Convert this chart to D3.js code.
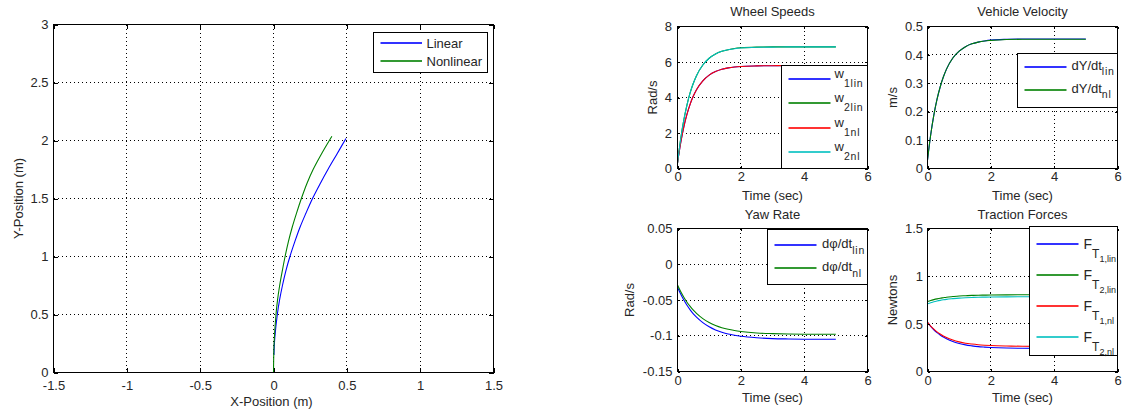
<!DOCTYPE html>
<html>
<head>
<meta charset="utf-8">
<script src="https://cdn.jsdelivr.net/npm/d3@7"></script>
<style>
  html, body { margin: 0; padding: 0; background: #fff; }
  svg { display: block; }
</style>
</head>
<body>
<svg id="fig" width="1125" height="414"></svg>
<script>
// ---------- data ----------
// planar trajectory (m)
const xLin = [0.003, 0.005, 0.009, 0.026, 0.042, 0.061, 0.083, 0.112, 0.146, 0.18, 0.22, 0.266, 0.319, 0.371, 0.431, 0.494];
const yLin = [0.15, 0.22, 0.3, 0.5, 0.63, 0.75, 0.87, 1.0, 1.13, 1.25, 1.37, 1.5, 1.63, 1.75, 1.88, 2.017];
const xNl  = [0, 0.001, 0.004, 0.017, 0.028, 0.042, 0.059, 0.079, 0.102, 0.127, 0.156, 0.19, 0.228, 0.27, 0.325, 0.398];
const yNl  = [0, 0.1, 0.25, 0.5, 0.63, 0.75, 0.87, 1.0, 1.13, 1.25, 1.37, 1.5, 1.63, 1.75, 1.88, 2.037];

// simulation time (sec)
const time = [0, 0.1, 0.2, 0.3, 0.4, 0.5, 0.6, 0.8, 1.0, 1.2, 1.4, 1.6, 1.8, 2.0, 2.5, 3.0, 3.5, 4.0, 4.5, 5.0];

// wheel speeds (rad/s)
const w1Lin = [0.3, 1.44, 2.35, 3.06, 3.63, 4.08, 4.44, 4.94, 5.26, 5.46, 5.59, 5.67, 5.72, 5.75, 5.78, 5.79, 5.8, 5.8, 5.8, 5.8];
const w2Lin = [0.3, 1.66, 2.74, 3.59, 4.27, 4.80, 5.23, 5.83, 6.21, 6.45, 6.60, 6.69, 6.76, 6.80, 6.84, 6.85, 6.85, 6.85, 6.85, 6.85];
const w1Nl  = [0.3, 1.44, 2.35, 3.06, 3.63, 4.08, 4.44, 4.94, 5.26, 5.46, 5.59, 5.67, 5.72, 5.75, 5.78, 5.79, 5.8, 5.8, 5.8, 5.8];
const w2Nl  = [0.3, 1.66, 2.74, 3.59, 4.27, 4.80, 5.23, 5.83, 6.21, 6.45, 6.60, 6.69, 6.75, 6.79, 6.83, 6.84, 6.85, 6.85, 6.85, 6.85];

// forward velocity (m/s)
const vLin = [0.03, 0.118, 0.188, 0.243, 0.287, 0.322, 0.350, 0.389, 0.413, 0.429, 0.439, 0.445, 0.449, 0.452, 0.455, 0.456, 0.456, 0.456, 0.456, 0.456];
const vNl  = [0.03, 0.118, 0.188, 0.243, 0.287, 0.322, 0.350, 0.389, 0.413, 0.429, 0.439, 0.445, 0.449, 0.451, 0.454, 0.455, 0.455, 0.455, 0.455, 0.455];

// yaw rate (rad/s)
const yawLin = [-0.032, -0.0417, -0.0501, -0.0574, -0.0638, -0.0693, -0.074, -0.0817, -0.0875, -0.0919, -0.0951, -0.0976, -0.0994, -0.1008, -0.1029, -0.104, -0.1045, -0.1048, -0.1049, -0.105];
const yawNl  = [-0.029, -0.0382, -0.0461, -0.0531, -0.059, -0.0642, -0.0687, -0.076, -0.0815, -0.0856, -0.0887, -0.091, -0.0927, -0.094, -0.0961, -0.097, -0.0975, -0.0978, -0.0979, -0.098];

// traction forces (N)
const ft1Lin = [0.516, 0.474, 0.438, 0.408, 0.383, 0.361, 0.343, 0.314, 0.294, 0.279, 0.269, 0.261, 0.256, 0.252, 0.246, 0.244, 0.243, 0.242, 0.242, 0.242];
const ft2Lin = [0.734, 0.745, 0.754, 0.762, 0.769, 0.774, 0.779, 0.786, 0.792, 0.795, 0.798, 0.800, 0.801, 0.802, 0.804, 0.805, 0.805, 0.805, 0.805, 0.805];
const ft1Nl  = [0.516, 0.477, 0.444, 0.416, 0.393, 0.373, 0.356, 0.330, 0.311, 0.297, 0.288, 0.281, 0.276, 0.272, 0.267, 0.265, 0.264, 0.263, 0.263, 0.263];
const ft2Nl  = [0.710, 0.721, 0.731, 0.739, 0.746, 0.752, 0.757, 0.764, 0.770, 0.774, 0.777, 0.779, 0.780, 0.781, 0.783, 0.784, 0.784, 0.784, 0.784, 0.784];

// tick values
const posXTicks = [-1.5, -1, -0.5, 0, 0.5, 1, 1.5];
const posYTicks = [0, 0.5, 1, 1.5, 2, 2.5, 3];
const timeTicks = [0, 2, 4, 6];
const wheelTicks = [0, 2, 4, 6, 8];
const velTicks = [0, 0.1, 0.2, 0.3, 0.4, 0.5];
const yawTicks = [-0.15, -0.1, -0.05, 0, 0.05];
const forceTicks = [0, 0.5, 1, 1.5];

// ---------- style ----------
const FONT = '"Liberation Sans", Arial, Helvetica, sans-serif';
const TXT = "#262626";
const C = { blue: "#0000ff", green: "#008000", red: "#ff0000", cyan: "#00bfbf" };

const svg = d3.select("#fig").attr("font-family", FONT);
let clipId = 0;

function panel(p) {
  const g = svg.append("g").attr("transform", `translate(${p.left + 0.5},${p.top + 0.5})`);
  const x = d3.scaleLinear().domain(p.xDomain).range([0, p.width]);
  const y = d3.scaleLinear().domain(p.yDomain).range([p.height, 0]);
  const fmt = d => String(d);

  // dotted grid
  const grid = g.append("g").attr("stroke", "#000").attr("stroke-width", 1)
    .attr("stroke-dasharray", "1,3").attr("shape-rendering", "crispEdges");
  grid.selectAll(".gx").data(p.xTicks.slice(1, -1)).join("line")
    .attr("x1", d => Math.round(x(d))).attr("x2", d => Math.round(x(d)))
    .attr("y1", 0).attr("y2", p.height);
  grid.selectAll(".gy").data(p.yTicks.slice(1, -1)).join("line")
    .attr("y1", d => Math.round(y(d))).attr("y2", d => Math.round(y(d)))
    .attr("x1", 0).attr("x2", p.width);

  // series
  const cid = "clip" + (clipId++);
  g.append("clipPath").attr("id", cid).append("rect")
    .attr("x", 0).attr("y", 0).attr("width", p.width).attr("height", p.height);
  const lines = g.append("g").attr("clip-path", `url(#${cid})`);
  const gen = d3.line().x(d => x(d[0])).y(d => y(d[1])).curve(p.curve || d3.curveMonotoneX);
  p.series.forEach(s => {
    const pts = s.xs.map((v, i) => [v, s.ys[i]]);
    lines.append("path").attr("d", gen(pts)).attr("fill", "none")
      .attr("stroke", s.color).attr("stroke-width", 1.1);
  });

  // axes: ticks drawn inward on all four sides
  const tl = p.tick;
  const styleAxis = sel => {
    sel.select(".domain").remove();
    sel.attr("font-family", FONT).attr("font-size", 13);
    sel.selectAll(".tick line").attr("stroke", "#000").attr("shape-rendering", "crispEdges");
    sel.selectAll("text").attr("fill", TXT);
  };
  g.append("g").attr("transform", `translate(0,${p.height})`)
    .call(d3.axisBottom(x).tickValues(p.xTicks).tickFormat(fmt).tickSizeInner(-tl).tickSizeOuter(0).tickPadding(p.xPad))
    .call(styleAxis);
  g.append("g")
    .call(d3.axisTop(x).tickValues(p.xTicks).tickFormat(() => "").tickSizeInner(-tl).tickSizeOuter(0))
    .call(styleAxis);
  g.append("g")
    .call(d3.axisLeft(y).tickValues(p.yTicks).tickFormat(fmt).tickSizeInner(-tl).tickSizeOuter(0).tickPadding(p.yPad))
    .call(styleAxis);
  g.append("g").attr("transform", `translate(${p.width},0)`)
    .call(d3.axisRight(y).tickValues(p.yTicks).tickFormat(() => "").tickSizeInner(-tl).tickSizeOuter(0))
    .call(styleAxis);

  // frame
  g.append("rect").attr("x", 0).attr("y", 0).attr("width", p.width).attr("height", p.height)
    .attr("fill", "none").attr("stroke", "#000").attr("shape-rendering", "crispEdges");

  // labels
  if (p.title) {
    g.append("text").attr("x", p.width / 2).attr("y", p.titleY).attr("text-anchor", "middle")
      .attr("font-size", 13).attr("fill", TXT).text(p.title);
  }
  g.append("text").attr("x", p.width / 2 + (p.xLabelShift || 0)).attr("y", p.xLabelY).attr("text-anchor", "middle")
    .attr("font-size", 13).attr("fill", TXT).text(p.xLabel);
  g.append("text").attr("transform", `translate(${p.yLabelX},${p.height / 2}) rotate(-90)`)
    .attr("dy", "0.35em").attr("text-anchor", "middle")
    .attr("font-size", 13).attr("fill", TXT).text(p.yLabel);

  // legend
  if (p.legend) {
    const L = p.legend;
    const lg = g.append("g").attr("transform", `translate(${Math.round(L.x)},${Math.round(L.y)})`);
    lg.append("rect").attr("width", Math.round(L.w)).attr("height", Math.round(L.h))
      .attr("fill", "#fff").attr("stroke", "#000").attr("shape-rendering", "crispEdges");
    L.entries.forEach((e, i) => {
      const ly = Math.round(L.first + i * L.step) - 0.5;
      lg.append("line").attr("x1", L.lineX).attr("x2", L.lineX + L.lineLen)
        .attr("y1", ly).attr("y2", ly).attr("stroke", e.color).attr("stroke-width", 2)
        .attr("stroke-opacity", 0.8);
      const t = lg.append("text").attr("x", L.lineX + L.lineLen + L.gap).attr("y", ly + L.base)
        .attr("fill", TXT);
      e.parts.forEach((part, k) => {
        const ts = t.append("tspan").attr("font-size", part.size).text(part.t);
        if (k > 0) ts.attr("dy", part.dy);
        if (part.ls) ts.attr("letter-spacing", part.ls);
      });
    });
  }
}

const sub = (t, dy) => ({ t, size: 10.5, dy, ls: 0.8 });
const main = t => ({ t, size: 13 });

// ---------- trajectory ----------
panel({
  left: 53, top: 24, width: 440, height: 348,
  xDomain: [-1.5, 1.5], yDomain: [0, 3],
  xTicks: posXTicks, yTicks: posYTicks, tick: 4.5, xPad: 8.5, yPad: 5,
  xLabel: "X-Position (m)", xLabelY: 381, xLabelShift: -2,
  yLabel: "Y-Position (m)", yLabelX: -35.5,
  curve: d3.curveCatmullRom,
  series: [
    { xs: xLin, ys: yLin, color: C.blue },
    { xs: xNl, ys: yNl, color: C.green }
  ],
  legend: {
    x: 320, y: 8, w: 114, h: 40, first: 11, step: 17.7, lineX: 7, lineLen: 41.5, gap: 4.5, base: 4.5,
    entries: [
      { color: C.blue, parts: [main("Linear")] },
      { color: C.green, parts: [main("Nonlinear")] }
    ]
  }
});

// ---------- wheel speeds ----------
panel({
  left: 677, top: 26, width: 190, height: 142,
  xDomain: [0, 6], yDomain: [0, 8],
  xTicks: timeTicks, yTicks: wheelTicks, tick: 2.5, xPad: 3.5, yPad: 5.5,
  title: "Wheel Speeds", titleY: -11,
  xLabel: "Time (sec)", xLabelY: 173,
  yLabel: "Rad/s", yLabelX: -25.5,
  series: [
    { xs: time, ys: w1Lin, color: C.blue },
    { xs: time, ys: w2Lin, color: C.green },
    { xs: time, ys: w1Nl, color: C.red },
    { xs: time, ys: w2Nl, color: C.cyan }
  ],
  legend: {
    x: 104, y: 39, w: 86, h: 103, first: 14, step: 24.3, lineX: 7, lineLen: 42, gap: 4, base: -1,
    entries: [
      { color: C.blue,  parts: [main("w"), sub("1lin", 9)] },
      { color: C.green, parts: [main("w"), sub("2lin", 9)] },
      { color: C.red,   parts: [main("w"), sub("1nl", 9)] },
      { color: C.cyan,  parts: [main("w"), sub("2nl", 9)] }
    ]
  }
});

// ---------- vehicle velocity ----------
panel({
  left: 927, top: 26, width: 190, height: 142,
  xDomain: [0, 6], yDomain: [0, 0.5],
  xTicks: timeTicks, yTicks: velTicks, tick: 2.5, xPad: 3.5, yPad: 4.5,
  title: "Vehicle Velocity", titleY: -11,
  xLabel: "Time (sec)", xLabelY: 173,
  yLabel: "m/s", yLabelX: -35,
  series: [
    { xs: time, ys: vLin, color: C.blue },
    { xs: time, ys: vNl, color: C.green }
  ],
  legend: {
    x: 90, y: 27, w: 100, h: 54, first: 14.4, step: 23, lineX: 7, lineLen: 42, gap: 5, base: 3,
    entries: [
      { color: C.blue,  parts: [main("dY/dt"), sub("lin", 5.3)] },
      { color: C.green, parts: [main("dY/dt"), sub("nl", 5.3)] }
    ]
  }
});

// ---------- yaw rate ----------
panel({
  left: 677, top: 228, width: 190, height: 143,
  xDomain: [0, 6], yDomain: [-0.15, 0.05],
  xTicks: timeTicks, yTicks: yawTicks, tick: 2.5, xPad: 4, yPad: 5,
  title: "Yaw Rate", titleY: -9.5,
  xLabel: "Time (sec)", xLabelY: 173.5,
  yLabel: "Rad/s", yLabelX: -48.5,
  series: [
    { xs: time, ys: yawLin, color: C.blue },
    { xs: time, ys: yawNl, color: C.green }
  ],
  legend: {
    x: 90, y: 1, w: 100, h: 55, first: 15.7, step: 23.3, lineX: 7, lineLen: 42, gap: 5.5, base: 3,
    entries: [
      { color: C.blue,  parts: [main("d\u03c6/dt"), sub("lin", 6)] },
      { color: C.green, parts: [main("d\u03c6/dt"), sub("nl", 6)] }
    ]
  }
});

// ---------- traction forces ----------
panel({
  left: 927, top: 228, width: 190, height: 143,
  xDomain: [0, 6], yDomain: [0, 1.5],
  xTicks: timeTicks, yTicks: forceTicks, tick: 2.5, xPad: 4, yPad: 4.5,
  title: "Traction Forces", titleY: -9.5,
  xLabel: "Time (sec)", xLabelY: 173.5,
  yLabel: "Newtons", yLabelX: -35.3,
  series: [
    { xs: time, ys: ft1Lin, color: C.blue },
    { xs: time, ys: ft2Lin, color: C.green },
    { xs: time, ys: ft1Nl, color: C.red },
    { xs: time, ys: ft2Nl, color: C.cyan }
  ],
  legend: {
    x: 102, y: -2, w: 88, h: 129, first: 18, step: 30.9, lineX: 7, lineLen: 42, gap: 5, base: 5,
    entries: [
      { color: C.blue,  parts: [{ t: "F", size: 14 }, { t: "T", size: 12, dy: 9 }, { t: "1,lin", size: 9, dy: 4 }] },
      { color: C.green, parts: [{ t: "F", size: 14 }, { t: "T", size: 12, dy: 9 }, { t: "2,lin", size: 9, dy: 4 }] },
      { color: C.red,   parts: [{ t: "F", size: 14 }, { t: "T", size: 12, dy: 9 }, { t: "1,nl", size: 9, dy: 4 }] },
      { color: C.cyan,  parts: [{ t: "F", size: 14 }, { t: "T", size: 12, dy: 9 }, { t: "2,nl", size: 9, dy: 4 }] }
    ]
  }
});
</script>
</body>
</html>
